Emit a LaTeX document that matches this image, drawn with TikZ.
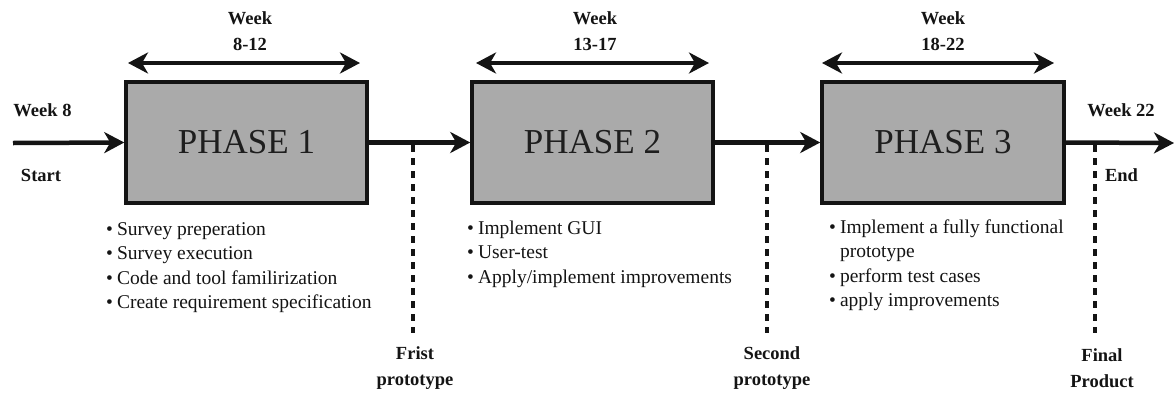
\documentclass[tikz,border=0pt]{standalone}
\usepackage{fontspec}
\setmainfont{Liberation Serif}
\usetikzlibrary{arrows.meta}

\definecolor{boxgray}{RGB}{170,170,170}
\definecolor{ink}{RGB}{20,20,20}
\definecolor{titleink}{RGB}{30,30,30}

\begin{document}
\begin{tikzpicture}[x=1pt,y=-1pt,
  phase/.style={draw=ink, line width=3.5pt, fill=boxgray, minimum width=241pt,
    minimum height=121pt, inner sep=0pt, font=\fontsize{35}{40}\selectfont, text=titleink},
  flow/.style={draw=ink, line width=4.5pt,
    -{Stealth[length=20pt,width=21pt,inset=6pt]}},
  span/.style={draw=ink, line width=4pt,
    {Stealth[length=20pt,width=21pt,inset=6pt]}-{Stealth[length=20pt,width=21pt,inset=6pt]}},
  milestone/.style={draw=ink, line width=4pt, dash pattern=on 7pt off 6pt},
  lbl/.style={font=\fontsize{18.5}{26}\selectfont\bfseries, text=ink, align=center, inner sep=0pt},
  tasks/.style={font=\fontsize{19.5}{24.5}\selectfont, text=ink, anchor=base west, inner sep=0pt}
]
\useasboundingbox (0,0) rectangle (1175,394);

% phase boxes
\node[phase] (p1) at (246.5,142.5) {PHASE 1};
\node[phase] (p2) at (592.5,142.5) {PHASE 2};
\node[phase, minimum width=242pt] (p3) at (943,142.5) {PHASE 3};

% timeline
\coordinate (start) at (13,143);
\coordinate (finish) at (1174,143);
\draw[flow] (start) -- (p1.west);
\draw[flow] (p1.east) -- (p2.west);
\draw[flow] (p2.east) -- (p3.west);
\draw[flow] (p3.east) -- (finish);

% milestones
\coordinate (m1a) at (413,145); \coordinate (m1b) at (413,333);
\coordinate (m2a) at (767,145); \coordinate (m2b) at (767,333);
\coordinate (m3a) at (1095,145); \coordinate (m3b) at (1095,333);
\draw[milestone] (m1a) -- (m1b);
\draw[milestone] (m2a) -- (m2b);
\draw[milestone] (m3a) -- (m3b);

\node[lbl] (r1) at (415,368) {Frist\\prototype};
\node[lbl] (r2) at (772,368) {Second\\prototype};
\node[lbl] (r3) at (1102,368) {Final\\Product};

% durations
\coordinate (d1a) at (128,63); \coordinate (d1b) at (360,63);
\coordinate (d2a) at (476,63); \coordinate (d2b) at (709,63);
\coordinate (d3a) at (822,63); \coordinate (d3b) at (1054,63);
\draw[span] (d1a) -- (d1b);
\draw[span] (d2a) -- (d2b);
\draw[span] (d3a) -- (d3b);

\node[lbl] (w1) at (250,31.5) {Week\\8-12};
\node[lbl] (w2) at (595,31.5) {Week\\13-17};
\node[lbl] (w3) at (943,31.5) {Week\\18-22};

% start / end labels
\node[lbl] (ws) at (42.5,110) {Week 8};
\node[lbl] (st) at (41,175) {Start};
\node[lbl] (we) at (1121,110) {Week 22};
\node[lbl] (en) at (1121.5,175) {End};

% task lists
\node[tasks] (t1) at (106,235) {\begin{tabular}[t]{@{}l@{\hspace{4pt}}l@{}}
  \textbullet & Survey preperation\\
  \textbullet & Survey execution\\
  \textbullet & Code and tool familirization\\
  \textbullet & Create requirement specification
\end{tabular}};
\node[tasks] (t2) at (467,234) {\begin{tabular}[t]{@{}l@{\hspace{4pt}}l@{}}
  \textbullet & Implement GUI\\
  \textbullet & User-test\\
  \textbullet & Apply/implement improvements
\end{tabular}};
\node[tasks] (t3) at (829,233) {\begin{tabular}[t]{@{}l@{\hspace{4pt}}l@{}}
  \textbullet & Implement a fully functional\\
              & prototype\\
  \textbullet & perform test cases\\
  \textbullet & apply improvements
\end{tabular}};
\end{tikzpicture}
\end{document}
